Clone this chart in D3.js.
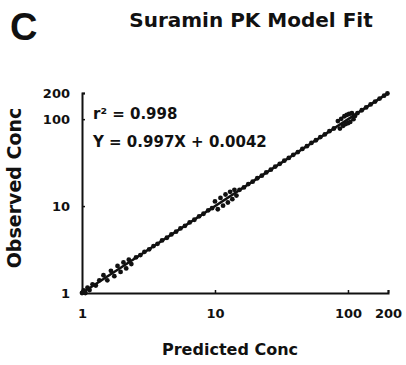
<!DOCTYPE html>
<html>
<head>
<meta charset="utf-8">
<script src="https://cdn.jsdelivr.net/npm/d3@7"></script>
<style>
  html, body { margin: 0; padding: 0; background: #fff; }
  #chart { width: 406px; height: 365px; }
  text { font-family: "DejaVu Sans", sans-serif; font-weight: bold; fill: #111; }
</style>
</head>
<body>
<div id="chart"></div>
<script>
// Predicted vs observed suramin concentrations
const predicted = [
    1.00, 1.03, 1.06, 1.10, 1.14, 1.20, 1.27, 1.35,
    1.45, 1.55, 1.65, 1.75, 1.85, 1.95, 2.05, 2.15, 2.25, 2.35,
    2.55, 2.75, 2.95, 3.2, 3.45, 3.7, 4.0, 4.35, 4.7, 5.1, 5.5, 5.95, 6.45, 7.0, 7.6, 8.2, 8.9, 9.5,
    10.0, 10.5, 11.0, 11.5, 12.0, 12.5, 13.0, 13.5, 14.0, 14.5,
    15.3, 16.5, 17.8, 19.2, 20.8, 22.5, 24.3, 26.3, 28.4, 30.7, 33.2, 35.9, 38.8, 42, 45.4, 49.1, 53.1, 57.4, 62, 67, 72.5, 78.4,
    84, 87, 89, 92, 94, 96, 98, 100, 102, 104, 107, 110, 113,
    118, 127, 137, 148, 160, 173, 187, 198
];
const observed = [
    1.00, 1.07, 1.00, 1.15, 1.08, 1.26, 1.22, 1.40,
    1.60, 1.40, 1.80, 1.56, 2.05, 1.75, 2.25, 1.92, 2.42, 2.15,
    2.57, 2.73, 2.98, 3.18, 3.47, 3.68, 4.03, 4.32, 4.72, 5.07, 5.53, 5.92, 6.48, 6.96, 7.63, 8.16, 8.94, 9.46,
    11.3, 9.2, 12.4, 10.1, 13.6, 11.0, 14.6, 12.0, 15.4, 13.2,
    15.4, 16.4, 17.9, 19.1, 20.9, 22.4, 24.4, 26.2, 28.5, 30.6, 33.3, 35.8, 38.9, 41.8, 45.5, 48.9, 53.3, 57.2, 62.2, 66.8, 72.7, 78.1,
    95, 78, 101, 84, 108, 88, 112, 90, 115, 93, 117, 100, 109,
    117.6, 126.7, 136.5, 147.6, 159.5, 172.5, 186.4, 197.4
];

// Linear regression of observed on predicted
const fitSlope = 0.997;
const fitIntercept = 0.0042;
const rSquared = 0.998;

const tickValues = [1, 10, 100, 200];

const width = 406;
const height = 365;

const svg = d3.select('#chart')
    .append('svg')
    .attr('width', width)
    .attr('height', height);

const xScale = d3.scaleLog()
    .domain([1, 200])
    .range([82, 388]);

const yScale = d3.scaleLog()
    .domain([1, 200])
    .range([293, 93]);

// Panel letter and title
svg.append('text')
    .attr('x', 10)
    .attr('y', 40)
    .style('font-family', 'Liberation Sans, Arial, sans-serif')
    .style('font-size', '38px')
    .text('C');

svg.append('text')
    .attr('x', 251)
    .attr('y', 27)
    .attr('text-anchor', 'middle')
    .style('font-size', '20px')
    .text('Suramin PK Model Fit');

// Fitted line
const fitLine = d3.line()
    .x(d => xScale(d))
    .y(d => yScale(fitSlope * d + fitIntercept));

svg.append('path')
    .datum(xScale.domain())
    .attr('d', fitLine)
    .attr('fill', 'none')
    .attr('stroke', '#111')
    .attr('stroke-width', 2.5);

// Data points
svg.append('g')
    .selectAll('circle')
    .data(predicted.map((p, i) => [p, observed[i]]))
    .join('circle')
    .attr('cx', d => xScale(d[0]))
    .attr('cy', d => yScale(d[1]))
    .attr('r', 2.4)
    .attr('fill', '#111');

// Axes
const xAxis = d3.axisBottom(xScale)
    .tickValues(tickValues)
    .tickFormat(d3.format('d'))
    .tickSize(-3)
    .tickPadding(16);

const xg = svg.append('g')
    .attr('transform', `translate(0,${yScale(1)})`)
    .call(xAxis);

const yAxis = d3.axisLeft(yScale)
    .tickValues(tickValues)
    .tickFormat(d3.format('d'))
    .tickSize(-3)
    .tickPadding(12);

const yg = svg.append('g')
    .attr('transform', `translate(${xScale(1)},0)`)
    .call(yAxis);

[xg, yg].forEach(g => {
    g.select('.domain').attr('stroke', '#111').attr('stroke-width', 2);
    g.selectAll('.tick line').attr('stroke', '#111').attr('stroke-width', 1.5);
    g.selectAll('.tick text')
        .style('font-family', '"DejaVu Sans", sans-serif')
        .style('font-weight', 'bold')
        .style('font-size', '13px')
        .attr('fill', '#111');
});

// Axis titles
svg.append('text')
    .attr('x', 230)
    .attr('y', 355)
    .attr('text-anchor', 'middle')
    .style('font-size', '16px')
    .text('Predicted Conc');

svg.append('text')
    .attr('transform', 'translate(21,188) rotate(-90)')
    .attr('text-anchor', 'middle')
    .style('font-size', '19px')
    .text('Observed Conc');

// Fit statistics
svg.append('text')
    .attr('x', 93)
    .attr('y', 119)
    .style('font-size', '15px')
    .text(`r² = ${rSquared}`);

svg.append('text')
    .attr('x', 93)
    .attr('y', 147)
    .style('font-size', '15px')
    .text(`Y = ${fitSlope}X + ${fitIntercept}`);
</script>
</body>
</html>
